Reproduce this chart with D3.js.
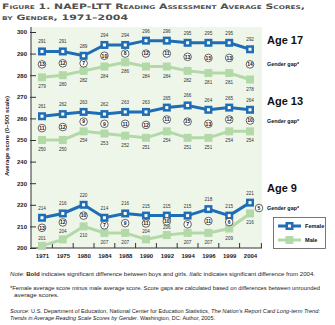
<!DOCTYPE html>
<html><head><meta charset="utf-8">
<script src="https://cdn.jsdelivr.net/npm/d3@7"></script>
<style>
html,body{margin:0;padding:0;background:#fff;}
svg{display:block;}
text{font-family:"Liberation Sans","DejaVu Sans",sans-serif;}
</style></head>
<body>
<svg id="chart" width="335" height="325"></svg>
<script>
const years = ["1971","1975","1980","1984","1988","1990","1992","1994","1996","1999","2004"];
const female17 = [291,291,289,294,294,296,296,295,295,295,292];
const male17   = [279,280,282,284,286,284,284,282,281,281,278];
const gap17    = [13,12,7,10,8,12,11,13,15,13,14];
const female13 = [261,262,263,262,263,263,265,266,264,265,264];
const male13   = [250,250,254,253,252,251,254,251,251,254,254];
const gap13    = [11,12,9,9,11,12,11,15,13,12,10];
const female9  = [214,216,220,214,216,215,215,215,218,215,221];
const male9    = [201,204,210,207,207,204,206,207,207,209,216];
const gap9     = [13,12,10,7,9,11,10,7,11,6,5];
const yTicks   = [200,210,220,230,240,250,260,270,280,290,300];
const ageLabels = ["Age 17","Age 13","Age 9"];
const seriesNames = ["Female","Male"];

const titleLines = ["Figure 1. NAEP-LTT Reading Assessment Average Scores,", "by Gender, 1971\u20132004"];

const groups = [
  {age: ageLabels[0], f: female17, m: male17, g: gap17, ageY: 294.6},
  {age: ageLabels[1], f: female13, m: male13, g: gap13, ageY: 266.4},
  {age: ageLabels[2], f: female9,  m: male9,  g: gap9,  ageY: 226}
];

const blue = "#1f6db4", green = "#b3d9a9", bg = "#eef6e9";
const svg = d3.select("#chart");

const plotL = 31, plotR = 262, plotT = 27, plotB = 248;
const x = d3.scalePoint().domain(years).range([42, 250]);
const step = x.step();
const y = d3.scaleLinear().domain([200, 300]).range([248, 32]);

// title
svg.append("text").attr("x", 2).attr("y", 9)
  .attr("textLength", 303).attr("lengthAdjust", "spacingAndGlyphs")
  .style("font-family", "'DejaVu Sans'").style("font-weight", "bold")
  .style("font-variant", "small-caps").style("font-size", "7.4px").attr("fill", "#505050")
  .text(titleLines[0]);
svg.append("text").attr("x", 2).attr("y", 20)
  .attr("textLength", 126).attr("lengthAdjust", "spacingAndGlyphs")
  .style("font-family", "'DejaVu Sans'").style("font-weight", "bold")
  .style("font-variant", "small-caps").style("font-size", "7.4px").attr("fill", "#505050")
  .text(titleLines[1]);

// plot background
svg.append("rect").attr("x", plotL).attr("y", plotT).attr("width", plotR - plotL).attr("height", plotB - plotT).attr("fill", bg);

// y axis
const yAxis = d3.axisLeft(y).tickValues(yTicks).tickSizeInner(-5).tickSizeOuter(0).tickPadding(4);
const gy = svg.append("g").attr("transform", `translate(${plotL},0)`).call(yAxis);
gy.select(".domain").remove();
gy.selectAll(".tick line").attr("stroke", "#333").attr("x1", -1);
gy.selectAll(".tick text").style("font-size", "6px").style("font-weight", "bold").attr("fill", "#222");
svg.append("line").attr("x1", plotL).attr("x2", plotL).attr("y1", plotT).attr("y2", plotB).attr("stroke", "#333").attr("stroke-width", 1);

// x axis
const xAxis = d3.axisBottom(x).tickSize(0).tickPadding(6);
const gx = svg.append("g").attr("transform", `translate(0,${plotB})`).call(xAxis);
gx.select(".domain").remove();
gx.selectAll(".tick text").style("font-size", "6px").style("font-weight", "bold").attr("fill", "#222");
svg.append("line").attr("x1", plotL).attr("x2", plotR).attr("y1", plotB).attr("y2", plotB).attr("stroke", "#333");
const bounds = years.slice(1).map(d => x(d) - step / 2).concat([x(years[years.length-1]) + step/2 + 1]);
svg.selectAll(".btick").data(bounds).enter().append("line")
  .attr("x1", d => d).attr("x2", d => d).attr("y1", plotB).attr("y2", plotB - 5)
  .attr("stroke", "#333");

// y axis title
svg.append("text").attr("transform", "translate(9,136) rotate(-90)").attr("text-anchor", "middle")
  .style("font-size", "6px").style("font-weight", "bold").attr("fill", "#222")
  .text("Average score (0\u2013500 scale)");

const line = d3.line().x((d, i) => x(years[i])).y(d => y(d));

groups.forEach(gr => {
  const g = svg.append("g");
  g.append("path").attr("d", line(gr.m)).attr("fill", "none").attr("stroke", green).attr("stroke-width", 3);
  g.selectAll(".mm").data(gr.m).enter().append("rect")
    .attr("x", (d, i) => x(years[i]) - 4).attr("y", d => y(d) - 4).attr("width", 8).attr("height", 8).attr("fill", green);
  g.append("path").attr("d", line(gr.f)).attr("fill", "none").attr("stroke", blue).attr("stroke-width", 3);
  g.selectAll(".fm").data(gr.f).enter().append("rect")
    .attr("x", (d, i) => x(years[i]) - 4).attr("y", d => y(d) - 4).attr("width", 8).attr("height", 8).attr("fill", blue);
  g.selectAll(".fi").data(gr.f).enter().append("rect")
    .attr("x", (d, i) => x(years[i]) - 1.5).attr("y", d => y(d) - 1.5).attr("width", 3).attr("height", 3).attr("fill", "#fff");
  g.selectAll(".fl").data(gr.f).enter().append("text")
    .attr("x", (d, i) => x(years[i])).attr("y", d => y(d) - 8).attr("text-anchor", "middle")
    .style("font-size", "4.6px").attr("fill", "#333").text(d => d);
  const mLabY = gr.m.map(d => (y(d) + 11 > plotB - 2) ? y(d) - 6 : y(d) + 11);
  g.selectAll(".ml").data(gr.m).enter().append("text")
    .attr("x", (d, i) => x(years[i])).attr("y", (d, i) => mLabY[i]).attr("text-anchor", "middle")
    .style("font-size", "4.6px").attr("fill", "#333").text(d => d);
  const cy = gr.f.map((d, i) => {
    const yf = y(d), ym = y(gr.m[i]);
    const below = mLabY[i] < ym ? mLabY[i] - 2 : ym;
    return (yf + below) / 2;
  });
  const cx = gr.f.map((d, i) => (y(gr.m[i]) - y(d) < 12) ? x(years[i]) + 9 : x(years[i]));
  g.selectAll(".gc").data(gr.g).enter().append("circle")
    .attr("cx", (d, i) => cx[i]).attr("cy", (d, i) => cy[i]).attr("r", 3.8)
    .attr("fill", "#fff").attr("stroke", "#222").attr("stroke-width", 0.7);
  g.selectAll(".gt").data(gr.g).enter().append("text")
    .attr("x", (d, i) => cx[i]).attr("y", (d, i) => cy[i] + 1.8).attr("text-anchor", "middle")
    .style("font-size", "5px").style("font-weight", "bold").attr("fill", "#111").text(d => d);
  svg.append("text").attr("x", 267).attr("y", y(gr.ageY))
    .style("font-size", "11px").style("font-weight", "bold").attr("fill", "#111").text(gr.age);
  const last = gr.f.length - 1;
  svg.append("text").attr("x", 267).attr("y", cy[last] + 2)
    .style("font-size", "5.4px").style("font-weight", "bold").attr("fill", "#111").text("Gender gap*");
});

// legend
const lg = svg.append("g");
lg.append("rect").attr("x", 273.5).attr("y", 217.5).attr("width", 52).attr("height", 31)
  .attr("fill", "#fff").attr("stroke", "#555").attr("stroke-width", 0.8);
[blue, green].forEach((c, i) => {
  const ly = 226 + i * 14;
  lg.append("line").attr("x1", 278).attr("x2", 301).attr("y1", ly).attr("y2", ly).attr("stroke", c).attr("stroke-width", 3);
  lg.append("rect").attr("x", 285.5).attr("y", ly - 4).attr("width", 8).attr("height", 8).attr("fill", c);
  if (i === 0) lg.append("rect").attr("x", 288).attr("y", ly - 1.5).attr("width", 3).attr("height", 3).attr("fill", "#fff");
  lg.append("text").attr("x", 305).attr("y", ly + 2).style("font-size", "5.6px").style("font-weight", "bold")
    .attr("fill", "#111").text(seriesNames[i]);
});

// notes
const notes = svg.append("g").style("font-size", "5.8px").attr("fill", "#222");
const n1 = notes.append("text").attr("x", 10).attr("y", 276).attr("textLength", 305).attr("lengthAdjust", "spacingAndGlyphs");
n1.append("tspan").style("font-style", "italic").text("Note: ");
n1.append("tspan").style("font-weight", "bold").text("Bold");
n1.append("tspan").text(" indicates significant difference between boys and girls. ");
n1.append("tspan").style("font-style", "italic").text("Italic");
n1.append("tspan").text(" indicates significant difference from 2004.");
notes.append("text").attr("x", 10).attr("y", 290).attr("textLength", 310).attr("lengthAdjust", "spacingAndGlyphs")
  .text("*Female average score minus male average score. Score gaps are calculated based on differences between unrounded");
notes.append("text").attr("x", 14).attr("y", 297).attr("textLength", 45).attr("lengthAdjust", "spacingAndGlyphs").text("average scores.");
const s1 = notes.append("text").attr("x", 10).attr("y", 313).attr("textLength", 310).attr("lengthAdjust", "spacingAndGlyphs");
s1.append("tspan").style("font-style", "italic").text("Source: ");
s1.append("tspan").text("U.S. Department of Education, National Center for Education Statistics, ");
s1.append("tspan").style("font-style", "italic").text("The Nation\u2019s Report Card Long-term Trend:");
const s2 = notes.append("text").attr("x", 10).attr("y", 320).attr("textLength", 205).attr("lengthAdjust", "spacingAndGlyphs");
s2.append("tspan").style("font-style", "italic").text("Trends in Average Reading Scale Scores by Gender");
s2.append("tspan").text(". Washington, DC: Author, 2005.");
</script>
</body></html>
